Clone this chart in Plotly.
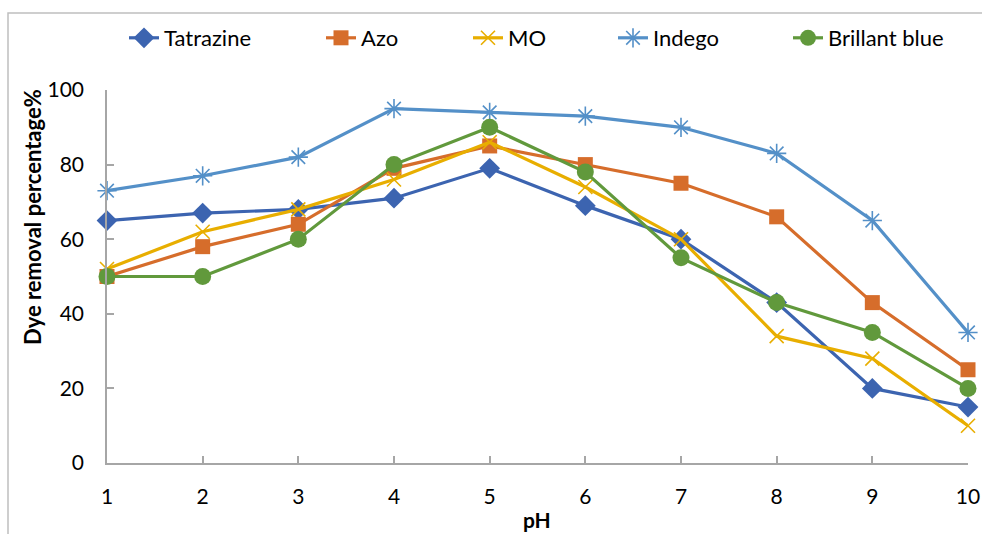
import plotly.graph_objects as go

ph = [1, 2, 3, 4, 5, 6, 7, 8, 9, 10]
tatrazine = [65, 67, 68, 71, 79, 69, 60, 43, 20, 15]
azo = [50, 58, 64, 79, 85, 80, 75, 66, 43, 25]
mo = [52, 62, 68, 76, 86, 74, 60, 34, 28, 10]
indego = [73, 77, 82, 95, 94, 93, 90, 83, 65, 35]
brillant = [50, 50, 60, 80, 90, 78, 55, 43, 35, 20]

series = [
    ("Tatrazine", tatrazine, "#3C64B0", dict(symbol="diamond", size=16)),
    ("Azo", azo, "#D66D2B", dict(symbol="square", size=15)),
    ("MO", mo, "#E8AE00", dict(symbol="x-thin-open", size=14)),
    ("Indego", indego, "#5490C8", dict(symbol="asterisk-open", size=16)),
    ("Brillant blue", brillant, "#61993C", dict(symbol="circle", size=17)),
]

# legend text start positions (pixels) for each entry
legend_text_px = [166, 363, 510, 655, 830]

FONT = "Lato"
L, R, T, B = 107, 14, 90, 71
PW = 982 - L - R
PH = 534 - T - B

fig = go.Figure()
legend_layout = {}
for i, ((name, vals, col, mk), tx) in enumerate(zip(series, legend_text_px)):
    marker = dict(color=col, **mk)
    if "open" in mk["symbol"]:
        marker["line"] = dict(color=col, width=1.6)
    lname = "legend" if i == 0 else f"legend{i+1}"
    fig.add_trace(go.Scatter(
        x=ph, y=vals, name=name, mode="lines+markers", legend=lname,
        line=dict(color=col, width=3.2), marker=marker, cliponaxis=False,
    ))
    legend_layout[lname] = dict(
        orientation="h", x=(tx - 42 - L) / PW, xanchor="left",
        y=(T + PH - 38) / PH, yanchor="middle",
        font=dict(family=FONT, size=22), bgcolor="rgba(0,0,0,0)",
        borderwidth=0, itemwidth=30,
    )

axis_col = "#A6A6A6"
fig.update_layout(
    width=982, height=534,
    margin=dict(l=L, r=R, t=T, b=B),
    plot_bgcolor="white", paper_bgcolor="white",
    font=dict(family=FONT, size=20, color="#000000"),
    showlegend=True,
    xaxis=dict(range=[1, 10], tickmode="array", tickvals=ph, ticks="inside", ticklen=7,
               tickcolor=axis_col, tickwidth=1.5, showline=True, linecolor=axis_col,
               linewidth=1.5, showgrid=False, zeroline=False, automargin=False,
               ticklabelstandoff=14, tickfont=dict(family=FONT, size=21)),
    yaxis=dict(range=[0, 100], tickmode="array", tickvals=[0, 20, 40, 60, 80, 100],
               ticks="inside", ticklen=7, tickcolor=axis_col, tickwidth=1.5,
               showline=True, linecolor=axis_col, linewidth=1.5, showgrid=False,
               zeroline=False, automargin=False, ticklabelstandoff=17,
               tickfont=dict(family=FONT, size=21)),
    **legend_layout,
)

fig.add_annotation(text="<b>Dye removal percentage%</b>", textangle=-90,
                   xref="paper", yref="paper", x=(32 - L) / PW, y=(T + PH - 217) / PH,
                   xanchor="center", yanchor="middle",
                   showarrow=False, font=dict(family=FONT, size=22))
fig.add_annotation(text="<b>pH</b>", xref="paper", yref="paper",
                   x=(537 - L) / PW, y=(T + PH - 519) / PH,
                   xanchor="center", yanchor="middle",
                   showarrow=False, font=dict(family=FONT, size=21))

fig.add_shape(type="rect", xref="paper", yref="paper", x0=(8 - L) / PW, x1=1.5,
              y0=-0.6, y1=(T + PH - 13) / PH, line=dict(color="#BFBFBF", width=1.5),
              layer="below")

fig.write_html("out.html")
